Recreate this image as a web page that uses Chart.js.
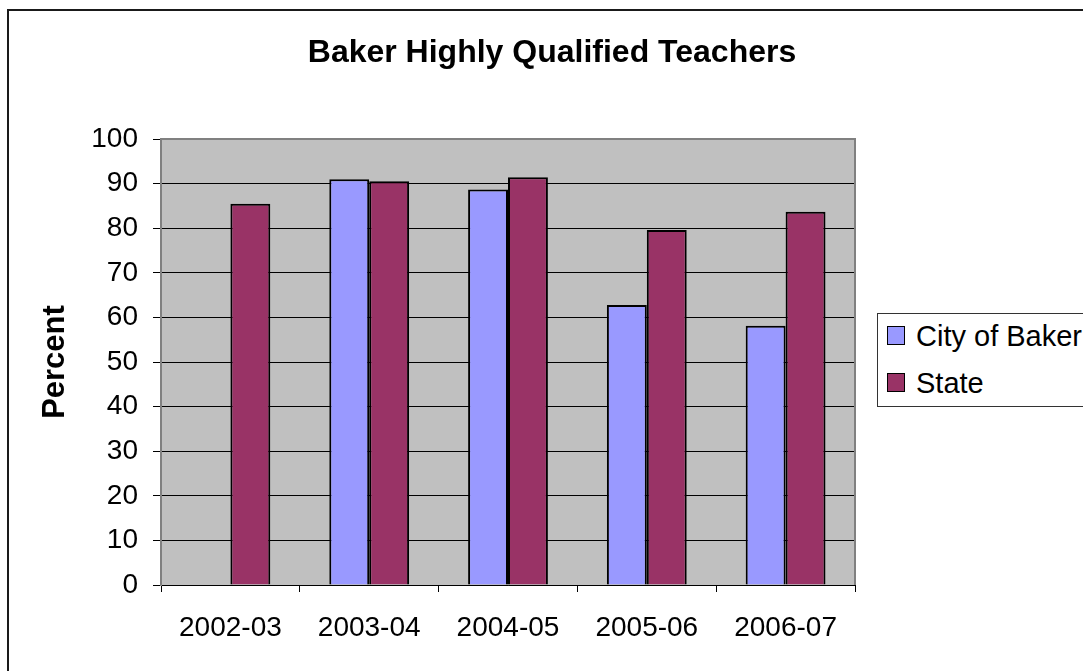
<!DOCTYPE html>
<html>
<head>
<meta charset="utf-8">
<script src="https://cdn.jsdelivr.net/npm/chart.js@4/dist/chart.umd.min.js"></script>
<style>
  html, body { margin: 0; padding: 0; background: #fff; overflow: hidden; }
  #wrap { position: relative; width: 1083px; height: 671px; overflow: hidden; }
  #frame { position: absolute; left: 7px; top: 9px; width: 1200px; height: 800px;
           border-left: 2px solid #1a1a1a; border-top: 2px solid #1a1a1a; box-sizing: border-box; }
  canvas { position: absolute; left: 0; top: 0; }
  #legend { position: absolute; left: 877px; top: 313px; width: 300px; height: 94px;
            border: 1px solid #333; border-right: none; box-sizing: border-box; background: #fff;
            font-family: "Liberation Sans", Arial, sans-serif; font-size: 29px; color: #000; }
  .row { position: absolute; left: 0; height: 34px; line-height: 34px; white-space: nowrap; }
  .sw { position: absolute; left: 9px; top: 7px; width: 18px; height: 19px; border: 1.5px solid #000; box-sizing: border-box; }
  .lab { position: absolute; left: 38px; top: 0; }
</style>
</head>
<body>
<div id="wrap">
  <div id="frame"></div>
  <canvas id="c" width="1083" height="671"></canvas>
  <div id="legend"></div>
</div>
<script>
const categories = ["2002-03", "2003-04", "2004-05", "2005-06", "2006-07"];
const bakerValues = [null, 91.0, 88.7, 62.8, 58.1];
const stateValues = [85.5, 90.5, 91.4, 79.6, 83.7];
const seriesNames = ["City of Baker", "State"];
const seriesColors = ["#9999FF", "#993366"];
const yTicks = [0, 10, 20, 30, 40, 50, 60, 70, 80, 90, 100];
const chartTitle = "Baker Highly Qualified Teachers";
const yTitle = "Percent";

const FONT = '"Liberation Sans", Arial, sans-serif';

// legend (HTML)
const leg = document.getElementById('legend');
const rowTops = [5, 52];
seriesNames.forEach((n, i) => {
  const r = document.createElement('div');
  r.className = 'row';
  r.style.top = rowTops[i] + 'px';
  r.innerHTML = '<span class="sw" style="background:' + seriesColors[i] + '"></span><span class="lab">' + n + '</span>';
  leg.appendChild(r);
});

const plotArea = {
  id: 'plotArea',
  beforeDraw(chart) {
    const a = chart.chartArea, ctx = chart.ctx;
    ctx.save();
    ctx.fillStyle = '#C0C0C0';
    ctx.fillRect(a.left, a.top, a.right - a.left, a.bottom - a.top);
    ctx.restore();
  },
  afterDraw(chart) {
    const a = chart.chartArea, ctx = chart.ctx;
    ctx.save();
    ctx.strokeStyle = '#808080';
    ctx.lineWidth = 2;
    ctx.beginPath();
    ctx.moveTo(a.left, a.top);
    ctx.lineTo(a.right, a.top);
    ctx.lineTo(a.right, a.bottom);
    ctx.stroke();
    ctx.restore();
  }
};

new Chart(document.getElementById('c'), {
  type: 'bar',
  data: {
    labels: categories,
    datasets: [
      { label: seriesNames[0], data: bakerValues, backgroundColor: seriesColors[0], borderColor: '#000', borderWidth: 2 },
      { label: seriesNames[1], data: stateValues, backgroundColor: seriesColors[1], borderColor: '#000', borderWidth: 2 }
    ]
  },
  options: {
    responsive: false,
    animation: false,
    devicePixelRatio: 1,
    layout: { padding: { left: 21, right: 0, top: 0, bottom: 0 } },
    datasets: { bar: { categoryPercentage: 0.575, barPercentage: 1.0 } },
    plugins: {
      legend: { display: false },
      tooltip: { enabled: false },
      title: {
        display: true, text: chartTitle, color: '#000',
        font: { family: FONT, size: 32, weight: 'bold' },
        padding: { top: 34, bottom: 66.6 }
      }
    },
    scales: {
      x: {
        grid: { display: true, drawOnChartArea: false, drawTicks: true, tickLength: 7, color: '#000', offset: true },
        border: { display: true, color: '#000', width: 1 },
        ticks: { color: '#000', font: { family: FONT, size: 28 }, padding: 19, maxRotation: 0, autoSkip: false },
        afterFit(s) { s.height = 86; }
      },
      y: {
        min: 0, max: 100,
        afterBuildTicks(s) { s.ticks = yTicks.map(v => ({ value: v })); },
        grid: { color: '#000', lineWidth: 1, tickLength: 8, drawTicks: true },
        border: { display: true, color: '#808080', width: 2 },
        ticks: { color: '#000', font: { family: FONT, size: 28 }, padding: 15 },
        title: { display: true, text: yTitle, color: '#000', font: { family: FONT, size: 31, weight: 'bold' }, padding: { top: 16, bottom: 0 } },
        afterFit(s) { s.width = 140; }
      },
      yR: {
        type: 'linear', position: 'right', display: true,
        grid: { display: false }, border: { display: false },
        ticks: { display: false },
        afterFit(s) { s.width = 228; }
      }
    }
  },
  plugins: [plotArea]
});
</script>
</body>
</html>
